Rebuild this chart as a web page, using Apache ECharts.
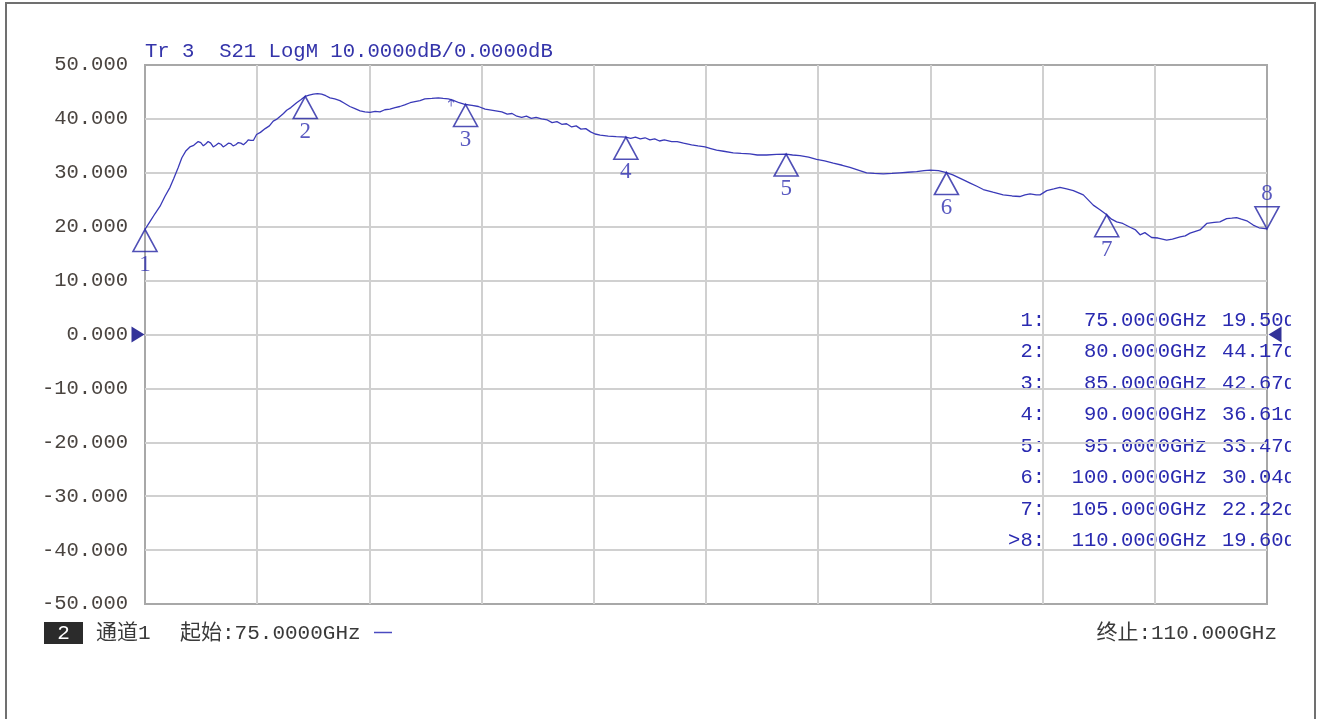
<!DOCTYPE html>
<html><head><meta charset="utf-8">
<script src="https://cdn.jsdelivr.net/npm/echarts@6/dist/echarts.min.js"></script>
<style>html,body{margin:0;padding:0;background:#fff}#c{width:1323px;height:719px}</style>
</head><body><div id="c"></div>
<script>
// ---- data ----
const traceFreq = [75.00,75.16,75.31,75.47,75.62,75.78,75.90,76.03,76.15,76.28,76.40,76.52,76.66,76.74,76.82,76.90,76.97,77.05,77.13,77.21,77.29,77.37,77.44,77.52,77.60,77.68,77.75,77.83,77.91,77.99,78.07,78.15,78.22,78.30,78.38,78.48,78.60,78.75,78.88,79.00,79.10,79.22,79.32,79.42,79.55,79.73,79.87,80.00,80.12,80.25,80.38,80.51,80.64,80.77,80.92,81.08,81.22,81.39,81.55,81.71,81.86,82.02,82.18,82.33,82.48,82.64,82.80,82.95,83.10,83.27,83.42,83.58,83.73,83.95,84.15,84.30,84.46,84.60,84.80,85.00,85.20,85.40,85.61,85.85,86.13,86.30,86.45,86.60,86.75,86.90,87.05,87.20,87.37,87.55,87.70,87.85,88.00,88.15,88.31,88.45,88.60,88.75,88.90,89.04,89.20,89.45,89.70,90.00,90.15,90.30,90.45,90.60,90.75,90.90,91.05,91.20,91.43,91.60,91.80,92.05,92.25,92.47,92.65,92.83,93.05,93.35,93.60,93.87,94.10,94.39,94.70,95.00,95.20,95.43,95.70,95.95,96.20,96.47,96.75,96.99,97.25,97.51,97.75,98.03,98.30,98.55,98.80,99.07,99.30,99.49,99.75,100.00,100.20,100.53,100.74,100.95,101.15,101.45,101.77,102.05,102.29,102.45,102.61,102.80,102.92,103.13,103.35,103.54,103.75,103.96,104.27,104.58,104.80,105.00,105.15,105.31,105.50,105.73,105.90,106.04,106.19,106.40,106.60,106.87,107.05,107.29,107.45,107.60,107.91,108.12,108.35,108.53,108.74,108.90,109.05,109.20,109.37,109.57,109.75,109.88,110.00];
const traceDb = [19.5,21.0,22.4,23.8,25.6,27.3,29.0,30.9,32.8,34.1,34.8,35.1,35.8,35.6,35.0,35.4,35.8,35.5,34.8,35.1,35.5,35.3,34.8,35.1,35.5,35.4,35.0,35.2,35.6,35.5,35.2,35.6,36.1,36.0,36.0,37.1,37.5,38.2,38.7,39.6,39.9,40.5,41.0,41.6,42.1,43.0,43.6,44.2,44.4,44.6,44.7,44.6,44.3,43.9,43.7,43.4,42.9,42.3,41.9,41.5,41.3,41.2,41.4,41.3,41.7,41.8,42.1,42.3,42.6,43.0,43.2,43.4,43.7,43.8,43.9,43.8,43.7,43.5,43.0,42.67,42.5,42.3,41.8,41.6,41.3,40.9,41.0,40.5,40.3,40.5,40.1,40.3,40.0,39.8,39.3,39.5,39.0,39.1,38.5,38.7,38.1,38.2,37.6,37.2,37.0,36.8,36.7,36.61,36.4,36.6,36.3,36.5,36.1,36.3,35.9,36.1,35.8,35.8,35.5,35.2,35.0,34.8,34.5,34.2,34.0,33.7,33.6,33.5,33.3,33.3,33.4,33.47,33.3,33.2,32.9,32.5,32.2,31.8,31.4,31.0,30.5,30.0,29.9,29.8,29.9,30.0,30.1,30.2,30.4,30.5,30.4,30.04,29.6,28.7,28.1,27.5,26.9,26.4,25.9,25.7,25.6,25.9,26.1,25.9,25.9,26.7,27.0,27.3,27.0,26.7,25.9,24.0,23.1,22.22,21.4,20.9,20.6,19.9,19.4,18.5,18.9,18.0,17.9,17.5,17.7,18.1,18.3,18.8,19.4,20.6,20.8,20.9,21.5,21.6,21.7,21.4,21.1,20.3,19.8,19.7,19.6];
const markerFreq = [75, 80, 85, 90, 95, 100, 105, 110];
const markerDb = [19.50, 44.17, 42.67, 36.61, 33.47, 30.04, 22.22, 19.60];
const activeMarker = 8;
const refLevel = 0;
const arrowPoint = [84.55, 43.6];
const startFreq = 75, stopFreq = 110;
const yMin = -50, yMax = 50, yStep = 10;
const xDivisions = 10;
const titleText = 'Tr 3  S21 LogM 10.0000dB/0.0000dB';
const traceNo = '2';
const channelText = '通道1';
const startLabel = '起始:';
const stopLabel = '终止:';

// ---- chart ----
const MONO = '"Liberation Mono", "Noto Sans CJK SC", monospace';
const chart = echarts.init(document.getElementById('c'), null, {renderer: 'canvas'});
const trace = traceFreq.map((f, i) => [f, traceDb[i]]);
const upTri = 'path://M12,0 L24,22 L0,22 Z';
const downTri = 'path://M0,0 L24,0 L12,22 Z';
const markerData = markerFreq.map((f, i) => {
  const last = (i + 1) === activeMarker && i === markerFreq.length - 1;
  return {
    value: [f, markerDb[i]],
    symbol: last ? downTri : upTri,
    symbolOffset: last ? [0, -11] : [0, 11],
    label: {position: last ? 'top' : 'bottom'}
  };
});

const graphic = [];
graphic.push({type: 'rect', z: 0, silent: true, shape: {x: 6, y: 3, width: 1309, height: 730},
  style: {fill: 'none', stroke: '#707070', lineWidth: 2}});
graphic.push({type: 'text', x: 145, y: 52, style: {text: titleText, font: '20.6px ' + MONO, fill: '#3434aa', textAlign: 'left', textVerticalAlign: 'middle'}});
// marker table
markerFreq.forEach((f, i) => {
  const y = 320.5 + i * 31.5;
  const col = '#2a2ab0';
  const font = '20.5px ' + MONO;
  graphic.push({type: 'text', x: 1045, y: y, style: {text: ((i + 1) === activeMarker ? '>' : '') + (i + 1) + ':', font, fill: col, textAlign: 'right', textVerticalAlign: 'middle'}});
  graphic.push({type: 'text', x: 1207, y: y, style: {text: f.toFixed(4) + 'GHz', font, fill: col, textAlign: 'right', textVerticalAlign: 'middle'}});
  graphic.push({type: 'text', x: 1222, y: y, style: {text: markerDb[i].toFixed(2) + 'dB', font, fill: col, textAlign: 'left', textVerticalAlign: 'middle'}});
});
graphic.push({type: 'rect', z: 50, silent: true, shape: {x: 1291, y: 300, width: 22, height: 260}, style: {fill: '#ffffff'}});
// bottom status line
const BFONT = '21px ' + MONO;
graphic.push({type: 'rect', shape: {x: 44, y: 622, width: 39, height: 22}, style: {fill: '#2b2b2b'}});
graphic.push({type: 'text', x: 63.5, y: 633.5, style: {text: traceNo, font: BFONT, fill: '#ffffff', textAlign: 'center', textVerticalAlign: 'middle'}});
graphic.push({type: 'text', x: 96, y: 633.5, style: {text: channelText, font: BFONT, fill: '#3a3a3a', textAlign: 'left', textVerticalAlign: 'middle'}});
graphic.push({type: 'text', x: 180, y: 633.5, style: {text: startLabel + startFreq.toFixed(4) + 'GHz', font: BFONT, fill: '#3a3a3a', textAlign: 'left', textVerticalAlign: 'middle'}});
graphic.push({type: 'line', shape: {x1: 374, y1: 632.5, x2: 392, y2: 632.5}, style: {stroke: '#4a4ac0', lineWidth: 1.5}});
graphic.push({type: 'text', x: 1277, y: 633.5, style: {text: stopLabel + stopFreq.toFixed(3) + 'GHz', font: BFONT, fill: '#3a3a3a', textAlign: 'right', textVerticalAlign: 'middle'}});

const option = {
  animation: false,
  backgroundColor: '#ffffff',
  grid: {left: 145, right: 56, top: 65, bottom: 115, show: true, borderColor: '#a8a8a8', borderWidth: 2, backgroundColor: 'transparent'},
  xAxis: [
    {type: 'value', min: startFreq, max: stopFreq, show: false},
    {type: 'value', min: 0, max: xDivisions, interval: 1, position: 'bottom',
      axisLabel: {show: false}, axisTick: {show: false}, axisLine: {show: false},
      splitLine: {show: true, showMinLine: false, showMaxLine: false, lineStyle: {color: '#d0d0d0', width: 2}}}
  ],
  yAxis: {type: 'value', min: yMin, max: yMax, interval: yStep,
    axisLine: {show: false}, axisTick: {show: false},
    axisLabel: {formatter: v => v.toFixed(3), color: '#4a4440', fontFamily: MONO, fontSize: 20.5, margin: 17},
    splitLine: {show: true, showMinLine: false, showMaxLine: false, lineStyle: {color: '#d0d0d0', width: 2}}},
  graphic: graphic,
  series: [
    {type: 'line', xAxisIndex: 0, data: trace, symbol: 'none', smooth: false, z: 3,
      lineStyle: {color: '#3a3ab8', width: 1.3}},
    {type: 'scatter', xAxisIndex: 0, data: markerData, symbolSize: [24, 22], clip: false, z: 4,
      itemStyle: {color: 'rgba(0,0,0,0)', borderColor: '#2424a4', borderWidth: 1.6},
      label: {show: true, formatter: p => String(p.dataIndex + 1), distance: 1, color: '#3030b0', fontFamily: '"Liberation Serif", serif', fontSize: 23},
      emphasis: {disabled: true}},
    {type: 'scatter', xAxisIndex: 0, clip: false, z: 5, symbol: 'triangle',
      data: [
        {value: [startFreq, refLevel], symbolRotate: -90, symbolOffset: [-7, 0]},
        {value: [stopFreq, refLevel], symbolRotate: 90, symbolOffset: [8, 0]}
      ],
      symbolSize: [16, 13], itemStyle: {color: '#00007f'}, emphasis: {disabled: true}},
    {type: 'scatter', xAxisIndex: 0, clip: false, z: 5,
      data: [arrowPoint], symbol: 'path://M4,0 L4,10 M0,4 L4,0 L8,4', symbolSize: [6, 7], symbolOffset: [0, 3.5],
      itemStyle: {color: 'rgba(0,0,0,0)', borderColor: '#3434b0', borderWidth: 1}, emphasis: {disabled: true}}
  ]
};
chart.setOption(option);
</script>
</body></html>
